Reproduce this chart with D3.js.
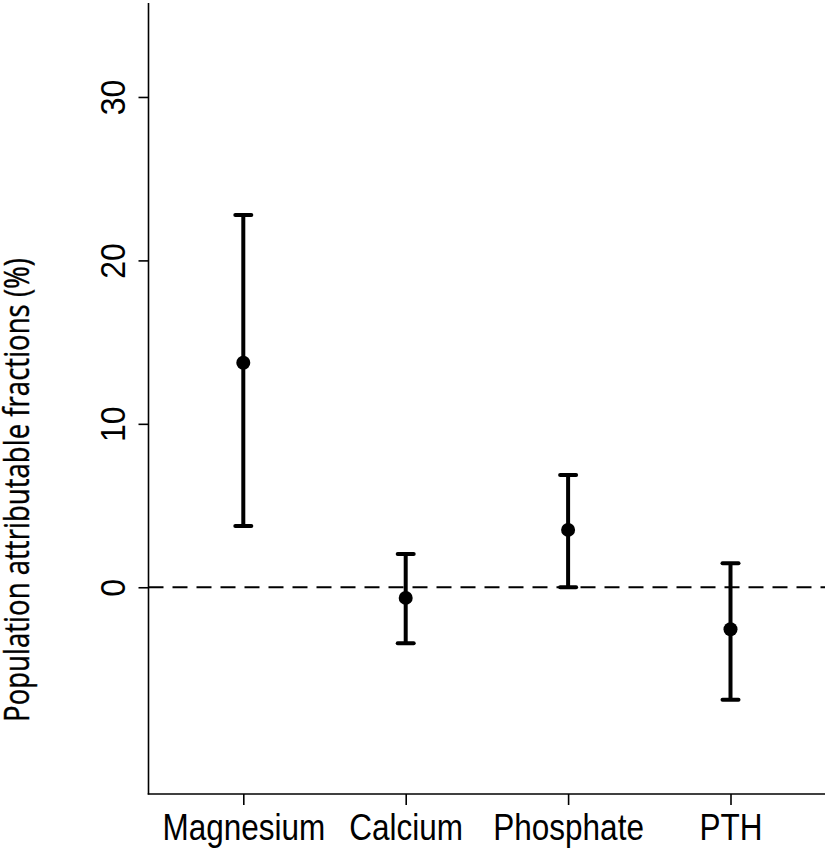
<!DOCTYPE html>
<html>
<head>
<meta charset="utf-8">
<script src="https://cdn.jsdelivr.net/npm/d3@7"></script>
<style>
  html, body { margin: 0; padding: 0; background: #fff; }
  svg { display: block; }
</style>
</head>
<body>
<svg id="chart" width="825" height="848"></svg>
<script>
// ---- data ----
const categories = ["Magnesium", "Calcium", "Phosphate", "PTH"];
const estimates  = [13.74, -0.65, 3.51, -2.57];
const lowerCI    = [3.75, -3.43, 0.0, -6.89];
const upperCI    = [22.78, 2.04, 6.87, 1.47];
const yTickValues = [0, 10, 20, 30];
const yTitle = "Population attributable fractions (%)";
const referenceValue = 0;

// ---- layout ----
const W = 825, H = 848;
const axisX = 148.5, plotTop = 3, plotBottom = 794, plotRight = 825;
const svg = d3.select("#chart");

const y = d3.scaleLinear().domain([-12.65, 35.75]).range([plotBottom, plotTop]);
const x = d3.scalePoint().domain(categories).range([243.3, 730.5]);

const rows = categories.map((c, i) => ({ c, est: estimates[i], lo: lowerCI[i], hi: upperCI[i] }));

// axis lines (L shape)
svg.append("line")
  .attr("x1", axisX).attr("x2", axisX)
  .attr("y1", plotTop).attr("y2", plotBottom + 0.5)
  .attr("stroke", "#000").attr("stroke-width", 1.6);
svg.append("line")
  .attr("x1", axisX - 0.8).attr("x2", plotRight)
  .attr("y1", plotBottom).attr("y2", plotBottom)
  .attr("stroke", "#000").attr("stroke-width", 1.6);

// y axis
const yAxis = svg.append("g")
  .attr("transform", `translate(${axisX},0)`)
  .call(d3.axisLeft(y).tickValues(yTickValues).tickSize(10).tickFormat(d3.format("d")));
yAxis.select(".domain").remove();
yAxis.selectAll(".tick line").attr("stroke", "#000").attr("stroke-width", 1.6);
yAxis.selectAll(".tick text")
  .attr("x", null).attr("dy", null)
  .attr("transform", "translate(-24,0) rotate(-90) scale(1,1.1)")
  .attr("text-anchor", "middle")
  .attr("font-family", "'Liberation Sans', Arial, sans-serif")
  .attr("font-size", 32)
  .attr("fill", "#000");

// x axis
const xAxis = svg.append("g")
  .attr("transform", `translate(0,${plotBottom})`)
  .call(d3.axisBottom(x).tickSize(11).tickPadding(0));
xAxis.select(".domain").remove();
xAxis.selectAll(".tick line").attr("stroke", "#000").attr("stroke-width", 1.6);
xAxis.selectAll(".tick text")
  .attr("y", null).attr("dy", null)
  .attr("transform", "translate(0,46) scale(1,1.2)")
  .attr("text-anchor", "middle")
  .attr("font-family", "'Liberation Sans', Arial, sans-serif")
  .attr("font-size", 31.5)
  .attr("fill", "#000");

// y title: natural font, scaled along its length to span the reference extent
const titleLen = 464, titleCenterY = (722 + 258) / 2;
const title = svg.append("text")
  .attr("text-anchor", "middle")
  .attr("font-family", "'Open Sans', 'Noto Sans', sans-serif")
  .attr("font-size", 35)
  .attr("fill", "#000")
  .attr("stroke", "#000").attr("stroke-width", 0.4)
  .text(yTitle);
const natural = title.node().getComputedTextLength() || titleLen;
title.attr("transform", `translate(29,${titleCenterY}) rotate(-90) scale(${titleLen / natural},1)`);

// reference dashed line
svg.append("line")
  .attr("x1", axisX).attr("x2", plotRight)
  .attr("y1", y(referenceValue)).attr("y2", y(referenceValue))
  .attr("stroke", "#000").attr("stroke-width", 2)
  .attr("stroke-dasharray", "15,9");

// error bars
const g = svg.append("g");
const capHalf = 8;
g.selectAll("line.bar").data(rows).join("line")
  .attr("class", "bar")
  .attr("x1", d => x(d.c)).attr("x2", d => x(d.c))
  .attr("y1", d => y(d.lo)).attr("y2", d => y(d.hi))
  .attr("stroke", "#000").attr("stroke-width", 4);
g.selectAll("line.capHi").data(rows).join("line")
  .attr("class", "capHi")
  .attr("x1", d => x(d.c) - capHalf).attr("x2", d => x(d.c) + capHalf)
  .attr("y1", d => y(d.hi)).attr("y2", d => y(d.hi))
  .attr("stroke", "#000").attr("stroke-width", 4).attr("stroke-linecap", "round");
g.selectAll("line.capLo").data(rows).join("line")
  .attr("class", "capLo")
  .attr("x1", d => x(d.c) - capHalf).attr("x2", d => x(d.c) + capHalf)
  .attr("y1", d => y(d.lo)).attr("y2", d => y(d.lo))
  .attr("stroke", "#000").attr("stroke-width", 4).attr("stroke-linecap", "round");
g.selectAll("circle").data(rows).join("circle")
  .attr("cx", d => x(d.c)).attr("cy", d => y(d.est))
  .attr("r", 7).attr("fill", "#000");
</script>
</body>
</html>
